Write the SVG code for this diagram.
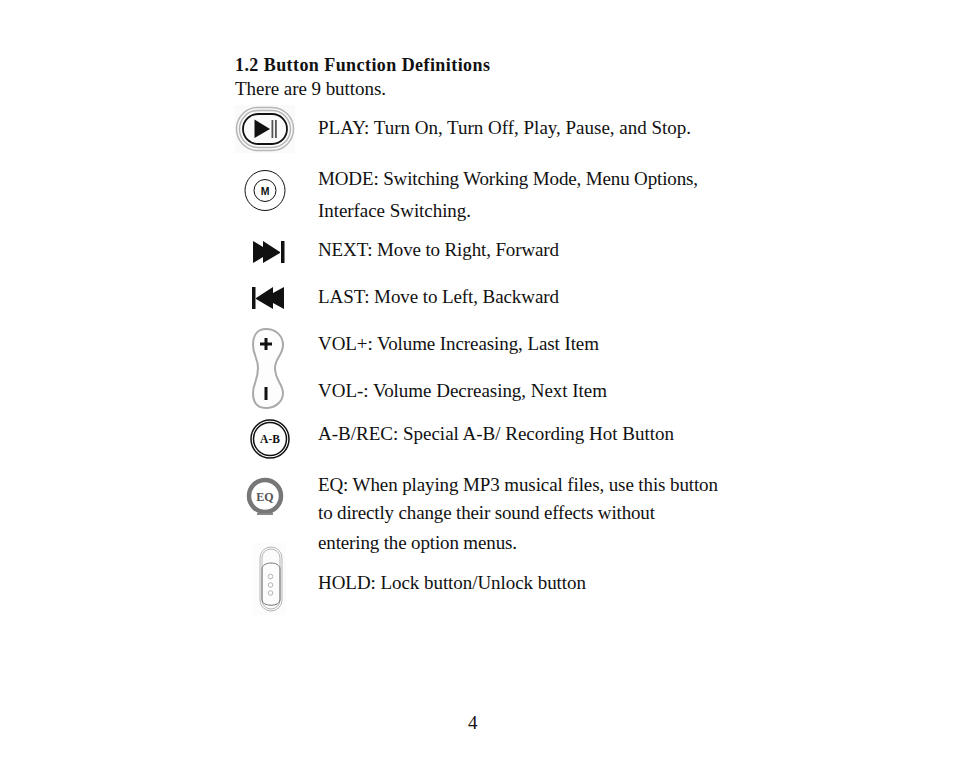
<svg xmlns="http://www.w3.org/2000/svg" width="954" height="761" viewBox="0 0 954 761">
<style>
text{font-family:"Liberation Serif","Times New Roman",serif;font-size:19px;fill:#111}
.b{font-weight:bold}
.h{font-size:18px}
.n{fill:none;stroke:#111}
.g{fill:none;stroke:#b5b5b5}
.k{fill:#111;stroke:none}
.m{font-family:"Liberation Sans",Arial,sans-serif;font-weight:bold;font-size:10.500px}
.ab{font-size:11.500px}
.eq{font-size:12px;fill:#555}
</style>
<rect width="954" height="761" fill="#fff"/>
<g id="heading">
<text class="b h" x="235" y="71" textLength="255" lengthAdjust="spacing">1.2 Button Function Definitions</text>
<text x="235" y="95" textLength="151" lengthAdjust="spacing">There are 9 buttons.</text>
</g>
<g id="play">
<rect x="235" y="105" width="60" height="48" fill="#fafafa"/>
<rect x="236.500" y="107.500" width="57" height="43" rx="21.500" class="g" stroke-width="1.500"/>
<rect x="239.500" y="110.500" width="51" height="37" rx="18.500" class="g" stroke-width="1.500"/>
<rect x="243" y="114" width="44" height="30" rx="15" class="n" stroke="#333" stroke-width="1.800"/>
<polygon class="k" points="254.500,119.500 254.500,138 270,129"/>
<rect x="271.500" y="120" width="1.800" height="18" fill="#555"/>
<rect x="275" y="120" width="1.800" height="18" fill="#555"/>
<text x="318" y="134" textLength="373" lengthAdjust="spacing">PLAY: Turn On, Turn Off, Play, Pause, and Stop.</text>
</g>
<g id="mode">
<circle cx="265" cy="190.500" r="20" class="n" stroke-width="1"/>
<circle cx="265" cy="190.500" r="11" class="n" stroke-width="1"/>
<text class="m" x="265" y="194.500" text-anchor="middle">M</text>
<text x="318" y="185" textLength="380" lengthAdjust="spacing">MODE: Switching Working Mode, Menu Options,</text>
<text x="318" y="217" textLength="153" lengthAdjust="spacing">Interface Switching.</text>
</g>
<g id="next">
<polygon class="k" points="253,241 263,247 263,241 280,252 280,253 263,263 263,257 253,263"/>
<rect x="281" y="241" width="3.500" height="22" class="k"/>
<text x="318" y="256" textLength="241" lengthAdjust="spacing">NEXT: Move to Right, Forward</text>
</g>
<g id="last">
<rect x="252" y="287" width="3.500" height="22" class="k"/>
<polygon class="k" points="284,287 273,293 273,287 256,298 256,299 273,309 273,303 284,309"/>
<text x="318" y="303" textLength="241" lengthAdjust="spacing">LAST: Move to Left, Backward</text>
</g>
<g id="vol">
<path d="M266 329C276 329 283 336 283 345C283 355 275 358 275 368C275 380 283 384 283 393C283 402 275 408 266 408C257 408 253 402 253 393C253 384 258 380 258 368C258 358 253 355 253 345C253 336 257 329 266 329Z" fill="#fdfdfd" stroke="#aaa" stroke-width="2"/>
<path d="M260 344H272M266 338V350" class="n" stroke-width="3"/>
<rect x="264.500" y="387" width="3" height="13" class="k"/>
<text x="318" y="350" textLength="281" lengthAdjust="spacing">VOL+: Volume Increasing, Last Item</text>
<text x="318" y="397" textLength="289" lengthAdjust="spacing">VOL-: Volume Decreasing, Next Item</text>
</g>
<g id="ab">
<circle cx="270" cy="439" r="19" class="n" stroke="#333" stroke-width="1.500"/>
<circle cx="270" cy="439" r="16.500" class="n" stroke="#333" stroke-width="1.500"/>
<text class="b ab" x="270" y="443" text-anchor="middle">A-B</text>
<text x="318" y="440" textLength="356" lengthAdjust="spacing">A-B/REC: Special A-B/ Recording Hot Button</text>
</g>
<g id="eq">
<circle cx="265" cy="496" r="16" fill="none" stroke="#777" stroke-width="4.500"/>
<rect x="257" y="513" width="16" height="2" fill="#888"/>
<text class="b eq" x="265" y="500.500" text-anchor="middle">EQ</text>
<text x="318" y="491" textLength="400" lengthAdjust="spacing">EQ: When playing MP3 musical files, use this button</text>
<text x="318" y="519" textLength="337" lengthAdjust="spacing">to directly change their sound effects without</text>
<text x="318" y="549" textLength="199" lengthAdjust="spacing">entering the option menus.</text>
</g>
<g id="hold">
<rect x="252" y="543" width="34" height="72" fill="#fcfcfc"/>
<rect x="260" y="547" width="22" height="64" rx="11" class="g" stroke="#999"/>
<rect x="262" y="549" width="18" height="60" rx="9" class="g" stroke="#999"/>
<path d="M262 569C262 561 280 561 280 569V600C280 607 262 607 262 600Z" fill="none" stroke="#777"/>
<circle cx="270.500" cy="576.500" r="2.300" class="g"/>
<circle cx="270.500" cy="585" r="2.300" class="g"/>
<circle cx="270.500" cy="593" r="2.300" class="g"/>
<text x="318" y="589" textLength="268" lengthAdjust="spacing">HOLD: Lock button/Unlock button</text>
</g>
<g id="page">
<text x="468" y="729">4</text>
</g>
<g id="connectors"></g>
</svg>
